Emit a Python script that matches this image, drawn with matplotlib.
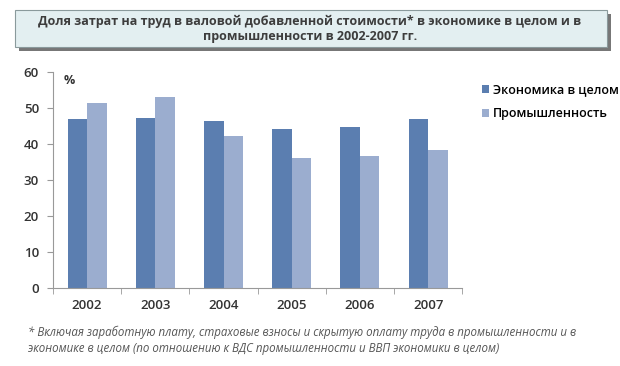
import matplotlib
matplotlib.use("Agg")
import numpy as np
import matplotlib.pyplot as plt
from matplotlib.patches import FancyBboxPatch

years = ["2002", "2003", "2004", "2005", "2006", "2007"]
economy = [46.8, 47.2, 46.2, 44.0, 44.7, 46.8]
industry = [51.3, 53.0, 42.3, 36.2, 36.6, 38.4]
series_names = ["Экономика в целом", "Промышленность"]

title = ("Доля затрат на труд в валовой добавленной стоимости* в экономике в целом и в\n"
         "промышленности в 2002-2007 гг.")
footnote = ("* Включая заработную плату, страховые взносы и скрытую оплату труда в промышленности и в\n"
            "экономике в целом (по отношению к ВДС промышленности и ВВП экономики в целом)")

plt.rcParams['font.family'] = ['Open Sans', 'DejaVu Sans']

fig = plt.figure(figsize=(6.2, 3.66), dpi=100)
ax = fig.add_axes([0.0855, 0.213, 0.66, 0.591])

x = np.arange(len(years))
w = 0.285
ax.bar(x - w / 2, economy, w, color="#5b7eb0", label=series_names[0])
ax.bar(x + w / 2, industry, w, color="#9badcf", label=series_names[1])

ax.set_xlim(-0.5, len(years) - 0.5)
ax.set_ylim(0, 60)
ax.set_yticks(range(0, 61, 10))
ax.set_xticks(x)
ax.set_xticklabels(years, fontweight="semibold")
ax.set_yticklabels([str(v) for v in range(0, 61, 10)], fontweight="semibold")
ax.set_xticks(np.arange(-0.5, len(years), 1), minor=True)
ax.tick_params(axis="x", which="major", length=0, pad=8, labelsize=9.5, colors="#333333")
ax.tick_params(axis="x", which="minor", length=4, color="#999999")
ax.tick_params(axis="y", length=4, color="#999999", labelsize=9.5, labelcolor="#333333", pad=6)
for s in ["top", "right"]:
    ax.spines[s].set_visible(False)
for s in ["left", "bottom"]:
    ax.spines[s].set_color("#999999")
ax.text(0.025, 0.99, "%", transform=ax.transAxes, fontsize=9, fontweight="bold",
        color="#333333", va="top")

ax.legend(loc="upper left", bbox_to_anchor=(1.02, 1.0), frameon=False,
          prop={"size": 9, "weight": "semibold"},
          handlelength=0.6, handleheight=0.6, handletextpad=0.3, labelspacing=0.9)

# title box with shadow
fig.patches.append(FancyBboxPatch((0.03, 0.862), 0.955, 0.1, boxstyle="square,pad=0",
                                  transform=fig.transFigure, facecolor="#777777",
                                  edgecolor="none", zorder=0))
fig.patches.append(FancyBboxPatch((0.024, 0.872), 0.955, 0.1, boxstyle="square,pad=0",
                                  transform=fig.transFigure, facecolor="#e3eff1",
                                  edgecolor="#8a9a9c", linewidth=0.8, zorder=1))
fig.text(0.5, 0.922, title, ha="center", va="center", fontsize=9, fontweight="bold",
         color="#3d3d3d", linespacing=1.2)

fig.text(0.045, 0.07, footnote, ha="left", va="center", fontsize=8.3, style="italic",
         color="#555555", linespacing=1.35)

fig.savefig("out.png", dpi=100)
